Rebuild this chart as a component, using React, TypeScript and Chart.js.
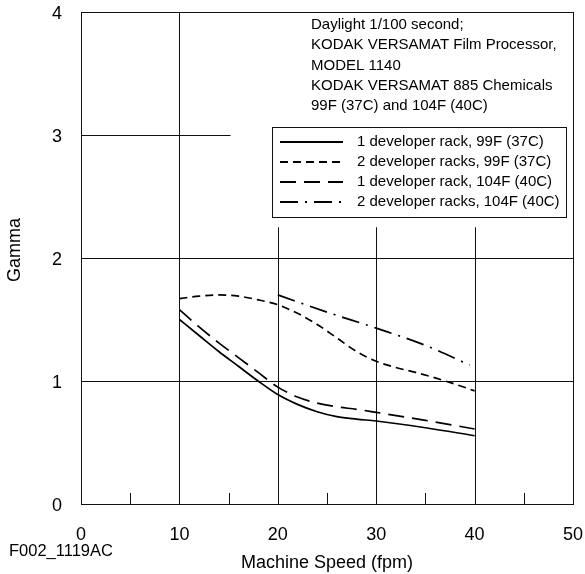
import React, { useEffect, useRef } from "react";
import { Chart, registerables } from "chart.js";

Chart.register(...registerables);

// ---- data ----
const speeds1Rack99 = [10, 12, 14, 16, 18, 20, 22, 24, 26, 28, 30, 35, 40];
const gamma1Rack99 = [1.5, 1.37, 1.24, 1.12, 1.0, 0.89, 0.81, 0.75, 0.71, 0.69, 0.675, 0.62, 0.555];

const speeds2Rack99 = [10, 12, 14, 16, 18, 20, 22, 24, 26, 28, 30, 32, 34, 36, 38, 40];
const gamma2Rack99 = [1.67, 1.69, 1.7, 1.69, 1.66, 1.62, 1.55, 1.46, 1.35, 1.24, 1.16, 1.11, 1.07, 1.025, 0.975, 0.92];

const speeds1Rack104 = [10, 12, 14, 16, 18, 20, 22, 24, 26, 28, 30, 35, 40];
const gamma1Rack104 = [1.58, 1.44, 1.31, 1.19, 1.07, 0.95, 0.87, 0.82, 0.79, 0.77, 0.745, 0.68, 0.61];

const speeds2Rack104 = [20, 25, 30, 35, 39.5];
const gamma2Rack104 = [1.7, 1.56, 1.43, 1.29, 1.13];

const seriesLabels = [
  "1 developer rack, 99F (37C)",
  "2 developer racks, 99F (37C)",
  "1 developer rack, 104F (40C)",
  "2 developer racks, 104F (40C)",
];

const noteLines = [
  "Daylight 1/100 second;",
  "KODAK VERSAMAT Film Processor,",
  "MODEL 1140",
  "KODAK VERSAMAT 885 Chemicals",
  "99F (37C) and 104F (40C)",
];

const xTitle = "Machine Speed (fpm)";
const yTitle = "Gamma";
const figureId = "F002_1119AC";

// grid segments in data units: [value, from, to]
const hGridLines = [
  [1, 0, 50],
  [2, 0, 50],
  [3, 0, 15.2],
];
const vGridLines = [
  [10, 0, 4],
  [20, 0, 2.25],
  [30, 0, 2.25],
  [40, 0, 2.25],
];
const minorTicks = [5, 15, 25, 35, 45];

const FONT = "'Liberation Sans', Arial, Helvetica, sans-serif";
const dashes = [[], [8, 5], [16, 8], [18, 7, 2, 7]];

function pts(xs: number[], ys: number[]) {
  return xs.map((x, i) => ({ x, y: ys[i] }));
}

const overlayPlugin = {
  id: "overlay",
  beforeDatasetsDraw(chart: any) {
    const { ctx, chartArea } = chart;
    const xs = chart.scales.x;
    const ys = chart.scales.y;
    ctx.save();
    ctx.strokeStyle = "#111";
    ctx.lineWidth = 1;
    for (const [v, a, b] of hGridLines) {
      const y = Math.round(ys.getPixelForValue(v)) + 0.5;
      ctx.beginPath();
      ctx.moveTo(xs.getPixelForValue(a), y);
      ctx.lineTo(xs.getPixelForValue(b), y);
      ctx.stroke();
    }
    for (const [v, a, b] of vGridLines) {
      const x = Math.round(xs.getPixelForValue(v)) + 0.5;
      ctx.beginPath();
      ctx.moveTo(x, ys.getPixelForValue(a));
      ctx.lineTo(x, ys.getPixelForValue(b));
      ctx.stroke();
    }
    for (const v of minorTicks) {
      const x = Math.round(xs.getPixelForValue(v)) + 0.5;
      ctx.beginPath();
      ctx.moveTo(x, chartArea.bottom);
      ctx.lineTo(x, chartArea.bottom - 11);
      ctx.stroke();
    }
    ctx.strokeRect(
      Math.round(chartArea.left) + 0.5,
      Math.round(chartArea.top) + 0.5,
      Math.round(chartArea.right - chartArea.left),
      Math.round(chartArea.bottom - chartArea.top)
    );
    ctx.restore();
  },
  afterDatasetsDraw(chart: any) {
    const { ctx } = chart;
    ctx.save();
    // annotation text block
    ctx.fillStyle = "#000";
    ctx.font = `15px ${FONT}`;
    ctx.textAlign = "left";
    ctx.textBaseline = "middle";
    noteLines.forEach((t, i) => ctx.fillText(t, 311, 25 + i * 20.2));

    // legend box
    const bx = 272.5, by = 127.5, bw = 294, bh = 90;
    ctx.fillStyle = "#fff";
    ctx.fillRect(bx, by, bw, bh);
    ctx.strokeStyle = "#111";
    ctx.lineWidth = 1;
    ctx.strokeRect(bx, by, bw, bh);
    chart.data.datasets.forEach((ds: any, i: number) => {
      const y = 142 + i * 20;
      ctx.strokeStyle = "#000";
      ctx.lineWidth = 2;
      ctx.setLineDash(ds.borderDash || []);
      ctx.beginPath();
      ctx.moveTo(280, y);
      ctx.lineTo(343, y);
      ctx.stroke();
      ctx.setLineDash([]);
      ctx.fillStyle = "#000";
      ctx.font = `15px ${FONT}`;
      ctx.fillText(ds.label, 357, y);
    });

    // y title
    ctx.save();
    ctx.translate(15, 250);
    ctx.rotate(-Math.PI / 2);
    ctx.textAlign = "center";
    ctx.textBaseline = "middle";
    ctx.font = `18px ${FONT}`;
    ctx.fillText(yTitle, 0, 0);
    ctx.restore();

    // figure id
    ctx.font = `16.5px ${FONT}`;
    ctx.textAlign = "left";
    ctx.textBaseline = "middle";
    ctx.fillText(figureId, 9, 551);
    ctx.restore();
  },
};

function zeroPad(s: any) {
  s.paddingLeft = 0;
  s.paddingRight = 0;
  s.paddingTop = 0;
  s.paddingBottom = 0;
}

export default function App() {
  const ref = useRef<HTMLCanvasElement | null>(null);
  useEffect(() => {
    document.body.style.margin = "0";
    const canvas = ref.current!;
    const chart = new Chart(canvas, {
      type: "line",
      data: {
        datasets: [
          { label: seriesLabels[0], data: pts(speeds1Rack99, gamma1Rack99), borderDash: dashes[0] },
          { label: seriesLabels[1], data: pts(speeds2Rack99, gamma2Rack99), borderDash: dashes[1] },
          { label: seriesLabels[2], data: pts(speeds1Rack104, gamma1Rack104), borderDash: dashes[2] },
          { label: seriesLabels[3], data: pts(speeds2Rack104, gamma2Rack104), borderDash: dashes[3] },
        ].map((d) => ({
          ...d,
          borderColor: "#000",
          backgroundColor: "#000",
          borderWidth: 1.7,
          pointRadius: 0,
          fill: false,
          cubicInterpolationMode: "monotone" as const,
        })),
      },
      options: {
        animation: false,
        responsive: false,
        maintainAspectRatio: false,
        layout: { padding: { left: 0, top: 12, right: 12, bottom: 0 } },
        plugins: { legend: { display: false }, tooltip: { enabled: false } },
        scales: {
          x: {
            type: "linear",
            min: 0,
            max: 50,
            grid: { display: false, drawTicks: false },
            border: { display: false },
            ticks: { stepSize: 10, color: "#000", padding: 20, font: { family: FONT, size: 18 } },
            title: {
              display: true,
              text: xTitle,
              color: "#000",
              font: { family: FONT, size: 18 },
              padding: { top: 0, bottom: 0 },
            },
            afterFit: (s: any) => {
              s.height = 70;
              zeroPad(s);
            },
          },
          y: {
            type: "linear",
            min: 0,
            max: 4,
            grid: { display: false, drawTicks: false },
            border: { display: false },
            ticks: { stepSize: 1, color: "#000", padding: 19, labelOffset: 2, font: { family: FONT, size: 18 } },
            afterFit: (s: any) => {
              s.width = 81;
              zeroPad(s);
            },
          },
        },
      },
      plugins: [overlayPlugin],
    });
    return () => chart.destroy();
  }, []);
  return <canvas ref={ref} width={585} height={574} style={{ display: "block", width: 585, height: 574 }} />;
}
